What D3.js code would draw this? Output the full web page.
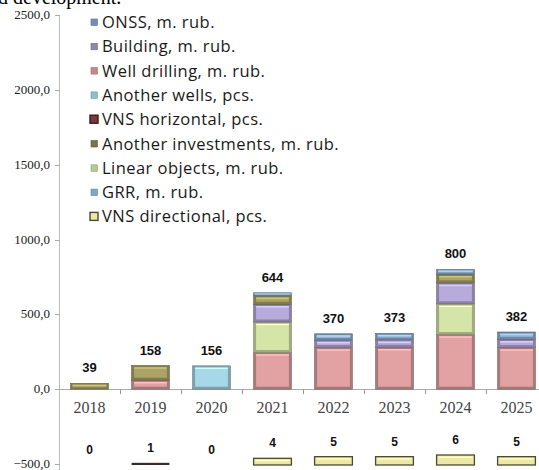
<!DOCTYPE html>
<meta charset="utf-8">
<style>
  body { margin: 0; background: #fff; }
</style>
<svg width="539" height="470"></svg>
<script src="https://cdn.jsdelivr.net/npm/d3@7"></script>
<script>
// values, m. rub.
var years = ["2018", "2019", "2020", "2021", "2022", "2023", "2024", "2025"];
var wellDrilling = [0, 60, 0, 245, 278, 280, 365, 278];
var linearObjects = [0, 0, 0, 204, 0, 0, 205, 0];
var building = [0, 0, 0, 118, 50, 50, 140, 55];
var anotherInvestments = [39, 98, 0, 57, 0, 0, 58, 0];
var onss = [0, 0, 0, 20, 42, 43, 32, 49];
var grr = [0, 0, 156, 0, 0, 0, 0, 0];
var totals = [39, 158, 156, 644, 370, 373, 800, 382];

// wells, pcs.
var vnsDirectional = [0, 0, 0, 4, 5, 5, 6, 5];
var vnsHorizontal = [0, 1, 0, 0, 0, 0, 0, 0];
var wellsTotal = [0, 1, 0, 4, 5, 5, 6, 5];

var yTicks = [2500, 2000, 1500, 1000, 500, 0, -500];

var legendItems = [
  "ONSS, m. rub.",
  "Building, m. rub.",
  "Well drilling, m. rub.",
  "Another wells, pcs.",
  "VNS horizontal, pcs.",
  "Another investments, m. rub.",
  "Linear objects, m. rub.",
  "GRR, m. rub.",
  "VNS directional, pcs."
];
var legendColors = ["#6f8db5", "#8f86aa", "#c4888e", "#8cbfc8", "#7a3a3a", "#7a7347", "#b9c794", "#7ea8c8", "#ebe7a6"];

var svg = d3.select("svg");

var y = d3.scaleLinear().domain([-500, 2500]).range([464, 15]);
var x = d3.scaleBand().domain(years).range([59, 547]).paddingInner(0.38).paddingOuter(0.19);
var step = x.step();

// cut-off caption line at top
svg.append("text")
    .attr("x", -2).attr("y", 4)
    .attr("font-family", "Liberation Serif").attr("font-size", 20)
    .text("d development.");

// y axis
svg.append("line")
    .attr("x1", 59.5).attr("x2", 59.5).attr("y1", y(2500)).attr("y2", 470)
    .attr("stroke", "#bbb");
var yt = svg.append("g").selectAll("g").data(yTicks).enter().append("g");
yt.append("line")
    .attr("x1", 55).attr("x2", 59.5)
    .attr("y1", function(d) { return Math.round(y(d)) + 0.5; })
    .attr("y2", function(d) { return Math.round(y(d)) + 0.5; })
    .attr("stroke", "#aaa");
yt.append("text")
    .attr("x", 50).attr("y", function(d) { return y(d) + 4; })
    .attr("text-anchor", "end")
    .attr("font-family", "Liberation Serif").attr("font-size", 13).attr("fill", "#222")
    .text(function(d) { return d3.format(".1f")(d).replace(".", ","); });

// x axis
svg.append("line")
    .attr("x1", 59.5).attr("x2", 539).attr("y1", Math.round(y(0)) + 0.5).attr("y2", Math.round(y(0)) + 0.5)
    .attr("stroke", "#aaa");
svg.append("g").selectAll("line").data(years.slice(1)).enter().append("line")
    .attr("x1", function(d) { return Math.round(x(d) - step * 0.19) + 0.5; })
    .attr("x2", function(d) { return Math.round(x(d) - step * 0.19) + 0.5; })
    .attr("y1", y(0)).attr("y2", y(0) + 5)
    .attr("stroke", "#999");
svg.append("g").selectAll("text").data(years).enter().append("text")
    .attr("x", function(d) { return x(d) + x.bandwidth() / 2; })
    .attr("y", 413)
    .attr("text-anchor", "middle")
    .attr("font-family", "Liberation Serif").attr("font-size", 16).attr("fill", "#444")
    .text(function(d) { return d; });

// stacked money bars
var series = [
  {values: wellDrilling, color: "#e2a1a2"},
  {values: linearObjects, color: "#d5e5a8"},
  {values: building, color: "#b7abdc"},
  {values: anotherInvestments, color: "#aba466"},
  {values: onss, color: "#93b5d6"},
  {values: grr, color: "#a7d8e8"}
];
var table = years.map(function(yr, i) {
  var row = {year: yr};
  series.forEach(function(s, k) { row["s" + k] = s.values[i]; });
  return row;
});
var stack = d3.stack().keys(series.map(function(s, k) { return "s" + k; }));

function bevel(g, x0, y0, w, h, color) {
  if (h <= 0) return;
  var c = d3.color(color);
  g.append("rect")
      .attr("x", x0).attr("y", y0).attr("width", w).attr("height", h)
      .attr("fill", c.darker(0.8)).attr("stroke", c.darker(1.5)).attr("stroke-width", 0.6);
  var inset = Math.min(2.5, h / 3);
  g.append("rect")
      .attr("x", x0 + inset).attr("y", y0 + inset * 0.7)
      .attr("width", w - inset * 2).attr("height", Math.max(0, h - inset * 1.7))
      .attr("fill", color);
  g.append("rect")
      .attr("x", x0 + inset).attr("y", y0 + inset * 0.7)
      .attr("width", w - inset * 2).attr("height", Math.min(1.5, h / 4))
      .attr("fill", c.brighter(0.5));
}

var bars = svg.append("g");
stack(table).forEach(function(layer, k) {
  layer.forEach(function(d, i) {
    var top = y(d[1]), bottom = y(d[0]);
    bevel(bars, x(years[i]), top, x.bandwidth(), bottom - top, series[k].color);
  });
});

svg.append("g").selectAll("text").data(totals).enter().append("text")
    .attr("x", function(d, i) { return x(years[i]) + x.bandwidth() / 2; })
    .attr("y", function(d) { return y(d) - 11; })
    .attr("text-anchor", "middle")
    .attr("font-family", "Liberation Sans").attr("font-size", 13).attr("font-weight", "bold").attr("fill", "#111")
    .text(function(d) { return d; });

// well count bars below the axis
var yPcs = d3.scaleLinear().domain([0, 6]).range([465, 455]);
var wells = svg.append("g");
vnsDirectional.forEach(function(v, i) {
  if (!v) return;
  var c = d3.color("#ece8a8");
  wells.append("rect")
      .attr("x", x(years[i])).attr("y", yPcs(v)).attr("width", x.bandwidth()).attr("height", yPcs(0) - yPcs(v))
      .attr("fill", "#ece8a8").attr("stroke", "#4a4a30").attr("stroke-width", 1.3);
  wells.append("rect")
      .attr("x", x(years[i]) + 2).attr("y", yPcs(v) + 1.5).attr("width", x.bandwidth() - 4).attr("height", 1.5)
      .attr("fill", c.brighter(0.4));
});
vnsHorizontal.forEach(function(v, i) {
  if (!v) return;
  wells.append("rect")
      .attr("x", x(years[i])).attr("y", yPcs(v) - 0.5).attr("width", x.bandwidth()).attr("height", yPcs(0) - yPcs(v) + 0.5)
      .attr("fill", "#3a2a2a");
});
svg.append("g").selectAll("text").data(wellsTotal).enter().append("text")
    .attr("x", function(d, i) { return x(years[i]) + x.bandwidth() / 2; })
    .attr("y", function(d) { return yPcs(d) - 11; })
    .attr("text-anchor", "middle")
    .attr("font-family", "Liberation Sans").attr("font-size", 12).attr("font-weight", "bold").attr("fill", "#111")
    .text(function(d) { return d; });

// legend
var legend = svg.append("g").selectAll("g").data(legendItems).enter().append("g")
    .attr("transform", function(d, i) { return "translate(0," + (22.5 + i * 24.3) + ")"; });
legend.append("rect")
    .attr("x", function(d, i) { return (i === 4 || i === 8) ? 90 : 91; })
    .attr("y", function(d, i) { return (i === 4 || i === 8) ? -4.5 : -3.5; })
    .attr("width", function(d, i) { return (i === 4 || i === 8) ? 8 : 6.5; })
    .attr("height", function(d, i) { return (i === 4 || i === 8) ? 8 : 6.5; })
    .attr("fill", function(d, i) { return legendColors[i]; })
    .attr("stroke", function(d, i) { return i === 4 ? "#3a1a1a" : i === 8 ? "#4a4a30" : d3.color(legendColors[i]).darker(0.6); })
    .attr("stroke-width", function(d, i) { return (i === 4 || i === 8) ? 1.4 : 0.6; });
legend.append("text")
    .attr("x", 102).attr("y", 5.5)
    .attr("font-family", "Open Sans").attr("font-size", 16.5).attr("letter-spacing", 0.45).attr("fill", "#1a1a1a")
    .text(function(d) { return d; });
</script>
